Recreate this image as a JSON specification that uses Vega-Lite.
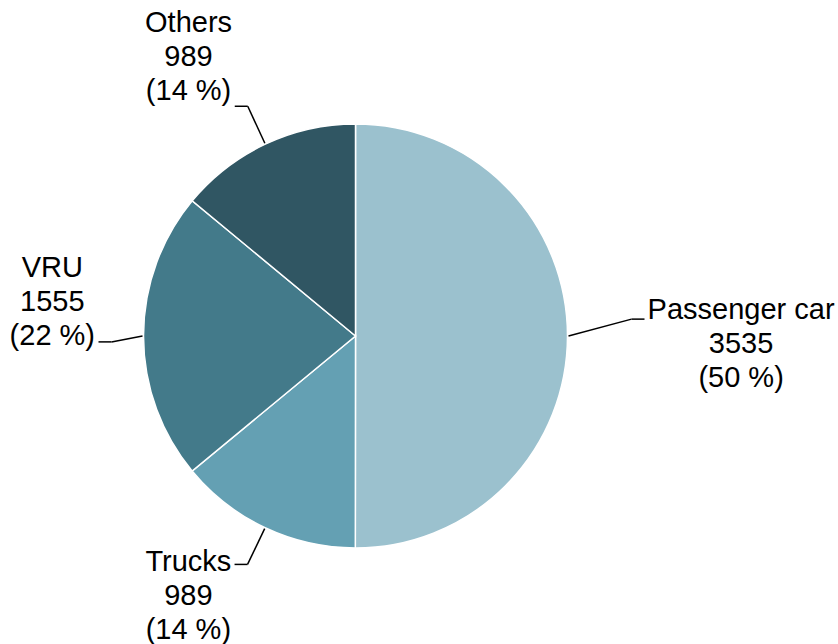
{
  "$schema": "https://vega.github.io/schema/vega-lite/v6.json",
  "width": 838,
  "height": 644,
  "autosize": {"type": "none"},
  "padding": 0,
  "background": "white",
  "config": {"view": {"stroke": null}},
  "data": {"values": [
    {"category": "Passenger car", "value": 3535, "pct": "(50 %)", "rank": 1},
    {"category": "Trucks", "value": 989, "pct": "(14 %)", "rank": 2},
    {"category": "VRU", "value": 1555, "pct": "(22 %)", "rank": 3},
    {"category": "Others", "value": 989, "pct": "(14 %)", "rank": 4}
  ]},
  "transform": [
    {"joinaggregate": [{"op": "sum", "field": "value", "as": "total"}]},
    {"window": [{"op": "sum", "field": "value", "as": "cum"}], "sort": [{"field": "rank"}], "frame": [null, 0]},
    {"calculate": "(datum.cum - datum.value) / datum.total * 2 * PI", "as": "a0"},
    {"calculate": "datum.cum / datum.total * 2 * PI", "as": "a1"},
    {"calculate": "(datum.a0 + datum.a1) / 2", "as": "am"},
    {"calculate": "sin(datum.am) >= 0 ? 1 : -1", "as": "side"},
    {"calculate": "213 * sin(datum.am)", "as": "sx"},
    {"calculate": "213 * cos(datum.am)", "as": "sy"},
    {"calculate": "260 + 16 * sin(datum.am)", "as": "re"},
    {"calculate": "datum.re * sin(datum.am)", "as": "ex"},
    {"calculate": "datum.re * cos(datum.am) + 11.5 * sin(datum.am) + 5.5", "as": "ey"},
    {"calculate": "datum.ex + datum.side * 13", "as": "tx"},
    {"calculate": "datum.category + '\\n' + datum.value + '\\n' + datum.pct", "as": "label"},
    {"calculate": "max(length(datum.category), length(datum.pct))", "as": "maxlen"},
    {"calculate": "datum.tx + datum.side * (7.2 * datum.maxlen + 3)", "as": "lx"},
    {"calculate": "datum.ey + (cos(datum.am) > 0.5 ? 83 : (cos(datum.am) < -0.5 ? 2 : (datum.side > 0 ? 9 : 74)))", "as": "ly"}
  ],
  "layer": [
    {
      "mark": {"type": "arc", "outerRadius": 212, "stroke": "white", "strokeWidth": 1.5},
      "encoding": {
        "x": {"datum": 0, "type": "quantitative", "scale": {"domain": [-355.5, 482.5], "nice": false, "zero": false}, "axis": null},
        "y": {"datum": 0, "type": "quantitative", "scale": {"domain": [-308, 336], "nice": false, "zero": false}, "axis": null},
        "theta": {"field": "a0", "type": "quantitative", "scale": null},
        "theta2": {"field": "a1"},
        "color": {
          "field": "category",
          "type": "nominal",
          "scale": {"domain": ["Passenger car", "Trucks", "VRU", "Others"], "range": ["#9BC1CE", "#64A0B3", "#437A8A", "#305663"]},
          "legend": null
        }
      }
    },
    {
      "mark": {"type": "rule", "color": "black", "strokeWidth": 1.5},
      "encoding": {
        "x": {"field": "sx", "type": "quantitative", "scale": {"domain": [-355.5, 482.5], "nice": false, "zero": false}, "axis": null},
        "y": {"field": "sy", "type": "quantitative", "scale": {"domain": [-308, 336], "nice": false, "zero": false}, "axis": null},
        "x2": {"field": "ex"},
        "y2": {"field": "ey"}
      }
    },
    {
      "mark": {"type": "rule", "color": "black", "strokeWidth": 1.5},
      "encoding": {
        "x": {"field": "ex", "type": "quantitative", "scale": {"domain": [-355.5, 482.5], "nice": false, "zero": false}, "axis": null},
        "y": {"field": "ey", "type": "quantitative", "scale": {"domain": [-308, 336], "nice": false, "zero": false}, "axis": null},
        "x2": {"field": "tx"}
      }
    },
    {
      "mark": {"type": "text", "font": "Liberation Sans", "fontSize": 29, "lineHeight": 34, "lineBreak": "\n", "align": "center", "baseline": "middle", "color": "black"},
      "encoding": {
        "x": {"field": "lx", "type": "quantitative", "scale": {"domain": [-355.5, 482.5], "nice": false, "zero": false}, "axis": null},
        "y": {"field": "ly", "type": "quantitative", "scale": {"domain": [-308, 336], "nice": false, "zero": false}, "axis": null},
        "text": {"field": "label"}
      }
    }
  ]
}
